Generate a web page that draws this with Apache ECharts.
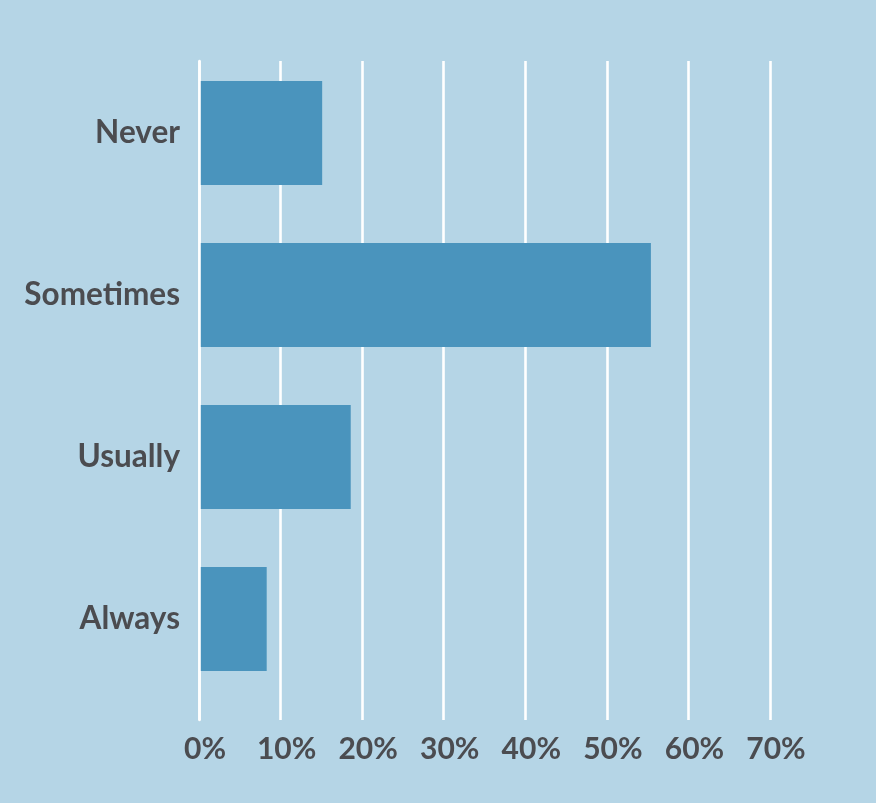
<!DOCTYPE html>
<html>
<head>
<meta charset="utf-8">
<script src="https://cdn.jsdelivr.net/npm/echarts@6/dist/echarts.min.js"></script>
<style>
  html, body { margin: 0; padding: 0; background: #b5d5e6; }
  #chart { width: 876px; height: 803px; }
</style>
</head>
<body>
<div id="chart"></div>
<script>
// survey answers, share of respondents in %
const categories = ['Never', 'Sometimes', 'Usually', 'Always']
const shares = [15.1, 55.4, 18.6, 8.3]
const xTicks = { min: 0, max: 70, interval: 10 }

const textColor = '#4b4c50'
const font = 'Lato'

const chart = echarts.init(document.getElementById('chart'))

chart.setOption({
  backgroundColor: '#b5d5e6',
  animation: false,
  grid: [
    // bars
    { left: 199, right: 106, top: 52, height: 648 },
    // gridlines + tick labels
    { left: 199, right: 106, top: 61, height: 659 }
  ],
  xAxis: [
    {
      gridIndex: 0, type: 'value', min: xTicks.min, max: xTicks.max, interval: xTicks.interval,
      show: false
    },
    {
      gridIndex: 1, type: 'value', min: xTicks.min, max: xTicks.max, interval: xTicks.interval,
      axisLine: { show: false },
      axisTick: { show: false },
      splitLine: { show: true, lineStyle: { color: '#ffffff', width: 2.6 } },
      axisLabel: {
        formatter: '{value}%',
        margin: 14,
        padding: [0, 0, 0, 12],
        color: textColor,
        fontFamily: font,
        fontWeight: 'bold',
        fontSize: 30
      }
    }
  ],
  yAxis: [
    {
      gridIndex: 0, type: 'category', data: categories, inverse: true,
      axisLine: { show: false },
      axisTick: { show: false },
      splitLine: { show: false },
      axisLabel: {
        margin: 19,
        padding: [3, 0, 0, 0],
        color: textColor,
        fontFamily: font,
        fontWeight: 'bold',
        fontSize: 31.5
      }
    },
    {
      // zero line drawn above the bars
      gridIndex: 1, type: 'value', min: 0, max: 1, z: 5,
      axisLine: { show: true, lineStyle: { color: '#ffffff', width: 2.6 } },
      axisTick: { show: false },
      axisLabel: { show: false },
      splitLine: { show: false }
    }
  ],
  series: [
    {
      type: 'bar',
      xAxisIndex: 0,
      yAxisIndex: 0,
      data: shares,
      barWidth: 104,
      itemStyle: { color: '#4a94bd' }
    }
  ]
})
</script>
</body>
</html>
